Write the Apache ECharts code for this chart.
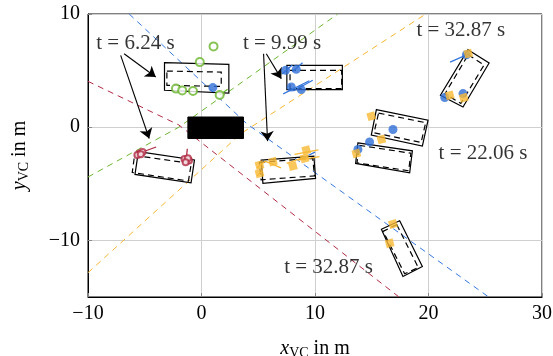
<!DOCTYPE html>
<html>
<head>
<meta charset="utf-8">
<script src="https://cdn.jsdelivr.net/npm/echarts@6/dist/echarts.min.js"></script>
<style>
  html, body { margin: 0; padding: 0; background: #fff; }
  #chart { width: 553px; height: 356px; }
</style>
</head>
<body>
<div id="chart"></div>
<script>
// Axis ranges and ticks (metres, vehicle coordinates)
const xTicks = [-10, 0, 10, 20, 30];
const yTicks = [-15, -10, 0, 10];

// Ego vehicle footprint
const egoCar = [[-1.2, 0.9], [3.7, 0.9], [3.7, -1.0], [-1.2, -1.0]];

// Dashed guide lines (polylines, one per colour)
const guideBlue   = [[-6.37, 10], [4.0, 0.3], [25.3, -15]];
const guideGreen  = [[-10, -4.4], [-2.0, 0.0], [12.0, 10]];
const guideRed    = [[-10, 4.05], [-2.0, 0.2], [17.4, -15]];
const guideOrange = [[-10, -12.85], [3.5, -0.55], [19.76, 10]];

// Object boxes: solid outline and dashed estimate
const boxesSolid = [
  [[-3.26, 5.70], [2.41, 5.55], [2.41, 3.02], [-3.26, 3.26]],
  [[-5.56, -2.15], [-0.62, -2.89], [-0.92, -4.91], [-5.86, -4.17]],
  [[7.52, 5.46], [12.41, 5.46], [12.41, 3.32], [7.52, 3.32]],
  [[5.26, -2.91], [9.90, -2.55], [10.05, -4.52], [5.41, -4.96]],
  [[15.41, 1.56], [19.96, 0.62], [19.46, -1.67], [14.96, -0.70]],
  [[13.78, -1.38], [18.58, -2.09], [18.34, -4.03], [13.58, -3.20]],
  [[23.48, 6.85], [25.34, 5.67], [23.04, 1.79], [21.05, 2.82]],
  [[17.46, -8.26], [19.46, -12.31], [17.75, -13.19], [15.85, -9.01]]
];
const boxesDashed = [
  [[-3.05, 4.96], [1.74, 4.87], [1.74, 3.60], [-3.05, 3.70]],
  [[-5.90, -2.50], [-0.90, -3.20], [-1.15, -4.75], [-6.10, -4.00]],
  [[7.80, 5.02], [12.35, 5.02], [12.35, 3.40], [7.80, 3.40]],
  [[5.10, -3.10], [9.80, -2.75], [9.95, -4.30], [5.25, -4.65]],
  [[15.60, 1.25], [19.75, 0.40], [19.35, -1.35], [15.20, -0.50]],
  [[13.90, -1.60], [18.45, -2.30], [18.25, -3.85], [13.70, -3.15]],
  [[23.50, 6.40], [24.90, 5.50], [22.85, 2.10], [21.45, 2.95]],
  [[17.20, -8.60], [19.10, -12.40], [17.90, -12.95], [16.00, -9.20]]
];

// Detections
const greenHits = [[1.06, 7.14], [-0.15, 5.75], [-2.25, 3.41], [-1.7, 3.25], [-0.75, 3.2], [1.6, 2.85]];
const redHits = [[-5.47, -2.32], [-5.2, -2.2], [-5.65, -2.45], [-5.35, -2.4],
                 [-1.35, -2.91], [-1.1, -2.95], [-1.5, -2.8], [-1.2, -2.75], [-1.4, -3.1]];
const blueHits = [[1.0, 3.5], [7.41, 5.02], [8.35, 5.11], [7.91, 3.55], [8.79, 3.32],
                  [16.87, -0.2], [14.81, -1.3], [13.78, -1.96],
                  [23.34, 6.4], [23.04, 2.97], [21.43, 2.62]];
const orangeHits = [[5.11, -3.35], [5.11, -4.08], [6.29, -3.05], [8.05, -3.44], [9.08, -2.76], [9.23, -2.03],
                    [14.96, 0.97], [15.85, -1.08], [13.64, -2.32],
                    [23.5, 6.5], [21.87, 2.82], [23.1, 2.6],
                    [16.87, -8.55], [16.58, -10.25]];

// Velocity vectors [start, end]
const blueVel = [[[7.1, 4.7], [8.0, 5.5]], [[8.0, 4.9], [8.9, 5.7]], [[7.2, 2.95], [9.5, 4.1]],
                 [[8.1, 3.2], [9.8, 4.15]], [[21.9, 5.75], [23.6, 6.5]], [[9.0, -2.7], [10.0, -2.2]]];
const orangeVel = [[[4.9, -3.6], [5.6, -3.0]], [[5.6, -3.0], [7.0, -3.6]], [[7.5, -3.2], [9.5, -2.5]],
                   [[8.5, -2.9], [10.4, -2.6]], [[8.2, -2.4], [10.3, -2.0]], [[4.9, -4.3], [5.3, -3.9]]];
const redVel = [[[-5.5, -2.3], [-4.0, -1.75]], [[-1.35, -2.9], [-1.25, -1.9]]];
const greenVel = [[[1.6, 2.85], [2.3, 3.35]]];

// Time stamps and arrows
const timeLabels = [
  [-5.82, 7.4, 't = 6.24 s'],
  [7.1, 7.4, 't = 9.99 s'],
  [22.85, 8.5, 't = 32.87 s'],
  [24.8, -2.35, 't = 22.06 s'],
  [11.2, -12.35, 't = 32.87 s']
];
const arrows = [
  [[-6.82, 6.49], [-4.03, 4.43]],
  [[-7.12, 6.34], [-4.61, -1.0]],
  [[5.71, 6.49], [7.03, 4.29]],
  [[5.47, 6.49], [5.82, -1.23]]
];

const SERIF = '"Liberation Serif", "DejaVu Serif", serif';
const minus = v => String(v).replace('-', '\u2212');

function polygonSeries(list, dashed) {
  return {
    type: 'custom',
    silent: true,
    z: 3,
    data: list.map((_, i) => [i]),
    renderItem: (params, api) => ({
      type: 'polygon',
      shape: { points: list[params.dataIndex].map(p => api.coord(p)) },
      style: { fill: 'none', stroke: '#000', lineWidth: 1.2, lineDash: dashed ? [6, 4] : null }
    })
  };
}

function segmentSeries(list, color) {
  return {
    type: 'custom',
    silent: true,
    z: 4,
    data: list.map((_, i) => [i]),
    renderItem: (params, api) => {
      const s = list[params.dataIndex];
      const a = api.coord(s[0]), b = api.coord(s[1]);
      return { type: 'line', shape: { x1: a[0], y1: a[1], x2: b[0], y2: b[1] },
               style: { stroke: color, lineWidth: 1.3 } };
    }
  };
}

function guideSeries(pts, color) {
  return {
    type: 'line', data: pts, symbol: 'none', silent: true, z: 2,
    lineStyle: { color: color, width: 1, type: [6, 5] }
  };
}

const nameStyle = {
  fontFamily: SERIF, fontSize: 20, color: '#000',
  rich: {
    it: { fontFamily: SERIF, fontSize: 20, fontStyle: 'italic', color: '#000' },
    sub: { fontFamily: SERIF, fontSize: 14, color: '#000', padding: [9, 5, 0, 0] }
  }
};

const chart = echarts.init(document.getElementById('chart'), null, { renderer: 'canvas' });

chart.setOption({
  animation: false,
  backgroundColor: '#fff',
  grid: {
    left: 88, right: 11, top: 14, bottom: 59,
    outerBoundsMode: 'none', containLabel: false,
    show: true, borderColor: '#000', borderWidth: 1
  },
  xAxis: {
    type: 'value', min: -10, max: 30, interval: 10,
    name: '{it|x}{sub|VC}in m',
    nameLocation: 'middle', nameGap: 40,
    nameTextStyle: nameStyle,
    axisLine: { onZero: false, lineStyle: { color: '#000' } },
    axisTick: { inside: true, length: 4, lineStyle: { color: '#888' } },
    axisLabel: { fontFamily: SERIF, fontSize: 20, color: '#000', margin: 7, formatter: minus },
    splitLine: { lineStyle: { color: '#cfcfcf', width: 1 } }
  },
  yAxis: {
    type: 'value', min: -15, max: 10,
    name: '{it|y}{sub|VC}in m',
    nameLocation: 'middle', nameGap: 57,
    nameTextStyle: nameStyle,
    axisLine: { onZero: false, lineStyle: { color: '#000' } },
    axisTick: { inside: true, length: 4, lineStyle: { color: '#888' },
                customValues: yTicks.filter(v => v > -15) },
    axisLabel: { fontFamily: SERIF, fontSize: 20, color: '#000', margin: 8, formatter: minus,
                 customValues: yTicks.filter(v => v > -15) },
    splitLine: { lineStyle: { color: '#cfcfcf', width: 1 } }
  },
  series: [
    guideSeries(guideGreen, '#6cb52d'),
    guideSeries(guideRed, '#b02a44'),
    guideSeries(guideBlue, '#3677dd'),
    guideSeries(guideOrange, '#f7b733'),
    {
      type: 'custom', silent: true, z: 3,
      data: [[0]],
      renderItem: (params, api) => ({
        type: 'polygon',
        shape: { points: egoCar.map(p => api.coord(p)) },
        style: { fill: '#000', stroke: '#000' }
      })
    },
    polygonSeries(boxesSolid, false),
    polygonSeries(boxesDashed, true),
    segmentSeries(blueVel, '#3677dd'),
    segmentSeries(orangeVel, '#f7b733'),
    segmentSeries(redVel, '#b02a44'),
    segmentSeries(greenVel, '#6cb52d'),
    {
      type: 'scatter', data: greenHits, symbol: 'emptyCircle', symbolSize: 8, z: 5, silent: true,
      itemStyle: { color: '#6cb52d', borderWidth: 1.3 }
    },
    {
      type: 'scatter', data: redHits, symbol: 'emptyCircle', symbolSize: 6, z: 5, silent: true,
      itemStyle: { color: '#b02a44', borderWidth: 1.3 }
    },
    {
      type: 'scatter', data: blueHits, symbol: 'circle', symbolSize: 9, z: 5, silent: true,
      itemStyle: { color: '#2f6fd6' }
    },
    {
      type: 'scatter', data: orangeHits, symbol: 'rect', symbolSize: 8, symbolRotate: 15, z: 5, silent: true,
      itemStyle: { color: '#f9b935' }
    },
    {
      type: 'scatter', data: timeLabels, symbolSize: 1, z: 6, silent: true,
      itemStyle: { color: 'rgba(255,255,255,0)' },
      label: {
        show: true, position: 'inside', formatter: p => p.data[2],
        fontFamily: SERIF, fontSize: 21, color: '#000'
      }
    },
    {
      type: 'line', data: [], symbol: 'none', silent: true, z: 6,
      markLine: {
        silent: true, symbol: ['none', 'arrow'], symbolSize: 10,
        label: { show: false },
        lineStyle: { color: '#000', width: 1.1, type: 'solid' },
        emphasis: { disabled: true },
        data: arrows.map(a => [{ coord: a[0] }, { coord: a[1] }])
      }
    }
  ]
});
</script>
</body>
</html>
